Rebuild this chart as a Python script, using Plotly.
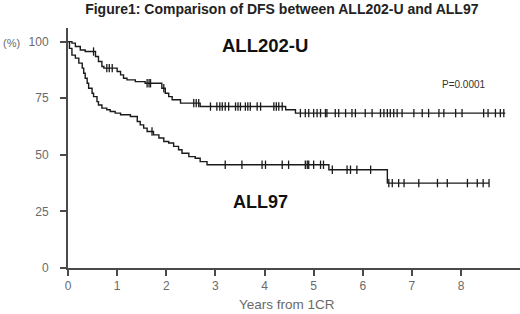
import numpy as np
import plotly.graph_objects as go

# ALL202-U step curve (years, DFS %)
u_time = [0, 0.08, 0.15, 0.25, 0.35, 0.56, 0.62, 0.69, 0.73, 1.0, 1.07, 1.13, 1.2, 1.37, 1.57,
          1.91, 1.98, 2.05, 2.12, 2.29, 2.69, 4.43, 4.63, 8.9]
u_surv = [100, 99.3, 97.8, 96.3, 95.6, 93.4, 91.2, 89.0, 88.3, 86.8, 85.3, 83.8, 83.1, 82.3, 81.6,
          79.4, 77.2, 75.7, 74.3, 72.8, 71.3, 69.9, 68.4, 68.4]

u_cens = [0.52, 0.79, 0.84, 0.9, 1.61, 1.65, 1.68, 1.95, 2.56, 2.61, 2.66, 2.9, 3.03, 3.09, 3.14,
          3.2, 3.27, 3.41, 3.46, 3.51, 3.61, 3.66, 3.71, 3.85, 3.92, 4.19, 4.24, 4.29, 4.36,
          4.73, 4.83, 4.9, 5.0, 5.07, 5.14, 5.24, 5.27, 5.44, 5.51, 5.65, 5.78, 5.85, 6.05,
          6.19, 6.36, 6.43, 6.5, 6.56, 6.63, 6.7, 6.8, 7.04, 7.21, 7.34, 7.55, 7.65, 7.89,
          8.02, 8.46, 8.55, 8.7, 8.8, 8.87]

# ALL97 step curve
l_time = [0, 0.03, 0.08, 0.15, 0.22, 0.29, 0.32, 0.35, 0.39, 0.42, 0.49, 0.52, 0.59, 0.62,
          0.69, 0.79, 0.86, 0.96, 1.07, 1.27, 1.41, 1.47, 1.54, 1.61, 1.74, 1.85, 1.95, 2.05,
          2.15, 2.25, 2.32, 2.46, 2.59, 2.69, 2.83, 5.31, 6.5, 8.57]
l_surv = [100, 97, 94, 92.7, 90.5, 88.3, 86, 83.8, 81.6, 79.4, 77.2, 75.7, 73.5, 72,
          70.6, 69.9, 69.1, 68.4, 67.7, 66.9, 64.7, 63.2, 61.8, 60.3, 58.8, 57.4, 55.9, 55.2,
          53.7, 52.2, 50.7, 49.2, 48.5, 47, 45.6, 43.4, 37.5, 37.5]

l_cens = [1.71, 3.2, 3.54, 3.95, 4.02, 4.36, 4.49, 4.83, 4.87, 4.9, 5.0, 5.14, 5.2, 5.38,
          5.68, 5.75, 5.88, 6.16, 6.53, 6.6, 6.73, 6.84, 7.14, 7.52, 7.72, 8.13, 8.33,
          8.45, 8.57]

x_ticks = [0, 1, 2, 3, 4, 5, 6, 7, 8]
y_ticks = [0, 25, 50, 75, 100]


def step_value(times, surv, pts):
    idx = np.searchsorted(np.array(times), np.array(pts), side="right") - 1
    return [surv[i] for i in idx]


LINE = "#1a1a1a"
AX = "#4a4a4a"
TXT = "#6a6a6a"
FONT = "Liberation Sans, Arial, sans-serif"

fig = go.Figure()
for t, s, c in [(u_time, u_surv, u_cens), (l_time, l_surv, l_cens)]:
    fig.add_trace(go.Scatter(x=t, y=s, mode="lines", line=dict(color=LINE, width=1.4, shape="hv"),
                             hoverinfo="skip", showlegend=False))
    fig.add_trace(go.Scatter(x=c, y=step_value(t, s, c), mode="markers",
                             marker=dict(symbol="line-ns", size=6, line=dict(color=LINE, width=1.3)),
                             hoverinfo="skip", showlegend=False))

axis_common = dict(showline=True, linecolor=AX, linewidth=2, ticks="outside", ticklen=6,
                   tickcolor=AX, tickwidth=2, tickfont=dict(color=TXT, size=12, family=FONT),
                   showgrid=False, zeroline=False, automargin=False)

fig.update_layout(
    width=520, height=314,
    margin=dict(l=68, r=0, t=28, b=46),
    paper_bgcolor="white", plot_bgcolor="white",
    font=dict(family=FONT),
    title=dict(text="<b>Figure1: Comparison of DFS between ALL202-U and ALL97</b>",
               x=0.542, xanchor="center", y=0.972, yanchor="middle",
               font=dict(size=14, color="#222222", family=FONT)),
    xaxis=dict(range=[0, 9.2], tickvals=x_ticks, **axis_common),
    yaxis=dict(range=[0, 106], tickvals=y_ticks, ticklabelstandoff=9, **axis_common),
)

ann = [
    dict(text="<b>ALL202-U</b>", x=4.0, y=98.1, ref=("x", "y"), size=18.5, color="#111111"),
    dict(text="<b>ALL97</b>", x=3.92, y=29.3, ref=("x", "y"), size=18, color="#111111"),
    dict(text="P=0.0001", x=8.05, y=80.9, ref=("x", "y"), size=10, color="#333333"),
    dict(text="(%)", x=-0.126, y=0.939, ref=("paper", "paper"), size=11, color=TXT),
    dict(text="Years from 1CR", x=0.4845, y=-0.154, ref=("paper", "paper"), size=13.5, color=TXT),
]
for a in ann:
    fig.add_annotation(text=a["text"], x=a["x"], y=a["y"], xref=a["ref"][0], yref=a["ref"][1],
                       showarrow=False, xanchor="center", yanchor="middle",
                       font=dict(size=a["size"], color=a["color"], family=FONT))

fig.write_html("out.html", post_script="document.body.style.margin='0';",
               config={"displayModeBar": False})
